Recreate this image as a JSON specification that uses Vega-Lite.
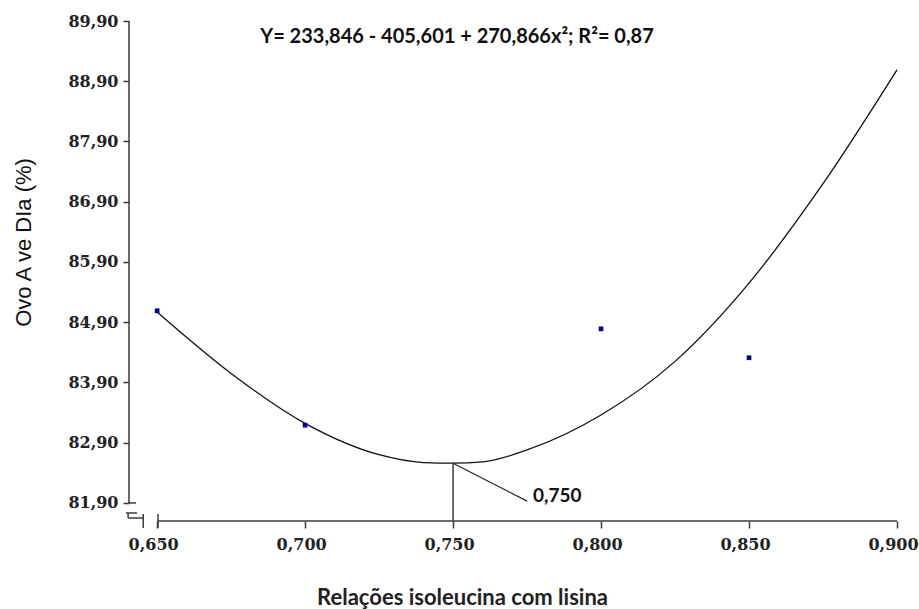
{
  "$schema": "https://vega.github.io/schema/vega-lite/v6.json",
  "width": 768,
  "height": 500,
  "autosize": "none",
  "padding": {"left": 129, "top": 21, "right": 22, "bottom": 88},
  "background": "white",
  "config": {
    "view": {"stroke": null},
    "axis": {"grid": false},
    "locale": {"number": {"decimal": ",", "thousands": ".", "grouping": [3], "currency": ["R$", ""]}}
  },
  "title": {
    "text": "Y= 233,846 - 405,601 + 270,866x²; R²= 0,87",
    "font": "Lato",
    "fontSize": 20,
    "fontWeight": "bold",
    "color": "#111111",
    "anchor": "middle",
    "frame": "group",
    "baseline": "alphabetic",
    "offset": 0,
    "dx": -56,
    "dy": 50
  },
  "datasets": {
    "curve": [
      {"ratio": 0.650, "fit": 85.07},
      {"ratio": 0.675, "fit": 84.05},
      {"ratio": 0.700, "fit": 83.22},
      {"ratio": 0.725, "fit": 82.70},
      {"ratio": 0.740, "fit": 82.57},
      {"ratio": 0.750, "fit": 82.56},
      {"ratio": 0.760, "fit": 82.58},
      {"ratio": 0.775, "fit": 82.78},
      {"ratio": 0.800, "fit": 83.36},
      {"ratio": 0.825, "fit": 84.25},
      {"ratio": 0.850, "fit": 85.55},
      {"ratio": 0.875, "fit": 87.20},
      {"ratio": 0.900, "fit": 89.09}
    ],
    "observed": [
      {"ratio": 0.65, "egg": 85.09},
      {"ratio": 0.70, "egg": 83.19},
      {"ratio": 0.80, "egg": 84.79},
      {"ratio": 0.85, "egg": 84.31}
    ],
    "frame": [
      {"x": 0.6405, "x2": 0.6405, "y": 81.90, "y2": 89.90},
      {"x": 0.6405, "x2": 0.6429, "y": 81.90, "y2": 81.90},
      {"x": 0.6395, "x2": 0.6432, "y": 81.733, "y2": 81.733},
      {"x": 0.6402, "x2": 0.6402, "y": 81.733, "y2": 81.650},
      {"x": 0.6402, "x2": 0.6453, "y": 81.650, "y2": 81.650},
      {"x": 0.6453, "x2": 0.6453, "y": 81.716, "y2": 81.484},
      {"x": 0.6503, "x2": 0.6503, "y": 81.716, "y2": 81.484},
      {"x": 0.6503, "x2": 0.900, "y": 81.60, "y2": 81.60}
    ],
    "optimum": [
      {"opt": 0.750, "ymin": 82.56, "lx": 0.775, "ly": 81.93}
    ]
  },
  "layer": [
    {
      "data": {"name": "frame"},
      "mark": {"type": "rule", "color": "#3a3a3a", "strokeWidth": 1.5},
      "encoding": {
        "x": {
          "field": "x",
          "type": "quantitative",
          "scale": {"domain": [0.6405, 0.9], "nice": false, "zero": false},
          "axis": {
            "values": [0.65, 0.7, 0.75, 0.8, 0.85, 0.9],
            "format": ".3f",
            "domain": false,
            "tickSize": 7,
            "tickColor": "#3a3a3a",
            "tickWidth": 1.5,
            "labelFont": "DejaVu Serif",
            "labelFontWeight": "bold",
            "labelFontSize": 16,
            "labelColor": "#222222",
            "labelPadding": 8,
            "labelOffset": -4,
            "labelFlush": false,
            "labelOverlap": false,
            "title": "Relações isoleucina com lisina",
            "titleFont": "Lato",
            "titleFontSize": 22,
            "titleFontWeight": "bold",
            "titleColor": "#222222",
            "titleX": 333,
            "titleY": 83,
            "titleAlign": "center",
            "titleBaseline": "alphabetic"
          }
        },
        "x2": {"field": "x2"},
        "y": {
          "field": "y",
          "type": "quantitative",
          "scale": {"domain": [81.6, 89.9], "nice": false, "zero": false},
          "axis": {
            "values": [81.9, 82.9, 83.9, 84.9, 85.9, 86.9, 87.9, 88.9, 89.9],
            "format": ".2f",
            "domain": false,
            "tickSize": 6,
            "tickColor": "#3a3a3a",
            "tickWidth": 1.5,
            "labelFont": "DejaVu Serif",
            "labelFontWeight": "bold",
            "labelFontSize": 16,
            "labelColor": "#222222",
            "labelPadding": 5,
            "labelOverlap": false,
            "title": "Ovo A ve DIa (%)",
            "titleFont": "Liberation Sans",
            "titleFontSize": 22,
            "titleFontWeight": "normal",
            "titleColor": "#111111",
            "titleX": -106,
            "titleY": 221,
            "titleAlign": "center",
            "titleBaseline": "middle"
          }
        },
        "y2": {"field": "y2"}
      }
    },
    {
      "data": {"name": "curve"},
      "mark": {"type": "line", "color": "#111111", "strokeWidth": 1.3, "interpolate": "monotone"},
      "encoding": {
        "x": {"field": "ratio", "type": "quantitative"},
        "y": {"field": "fit", "type": "quantitative"}
      }
    },
    {
      "data": {"name": "optimum"},
      "mark": {"type": "rule", "color": "#222222", "strokeWidth": 1.3},
      "encoding": {
        "x": {"field": "opt", "type": "quantitative"},
        "y": {"field": "ymin", "type": "quantitative"},
        "y2": {"datum": 81.6}
      }
    },
    {
      "data": {"name": "optimum"},
      "mark": {"type": "rule", "color": "#222222", "strokeWidth": 1.2},
      "encoding": {
        "x": {"field": "opt", "type": "quantitative"},
        "x2": {"field": "lx"},
        "y": {"field": "ymin", "type": "quantitative"},
        "y2": {"field": "ly"}
      }
    },
    {
      "data": {"name": "optimum"},
      "mark": {"type": "text", "font": "Lato", "fontSize": 19, "fontWeight": "bold", "color": "#111111", "align": "left", "baseline": "middle", "dx": 6, "dy": -5},
      "encoding": {
        "x": {"field": "lx", "type": "quantitative"},
        "y": {"field": "ly", "type": "quantitative"},
        "text": {"field": "opt", "type": "quantitative", "format": ".3f"}
      }
    },
    {
      "data": {"name": "observed"},
      "mark": {"type": "square", "size": 22, "filled": true, "color": "#00008b", "opacity": 1},
      "encoding": {
        "x": {"field": "ratio", "type": "quantitative"},
        "y": {"field": "egg", "type": "quantitative"}
      }
    }
  ]
}
